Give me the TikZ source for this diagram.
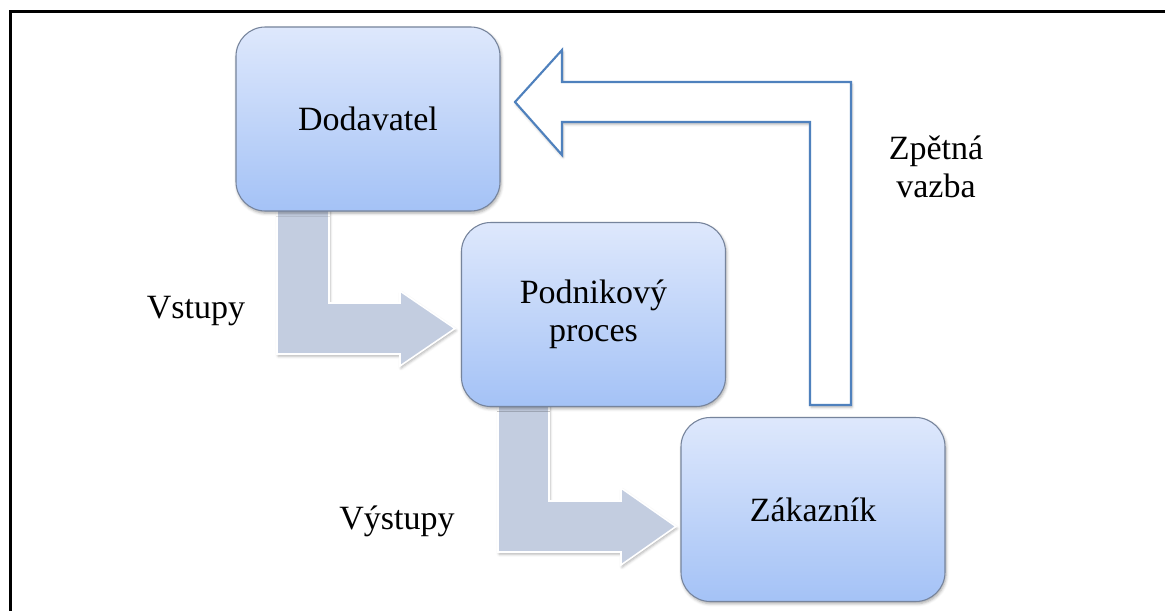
\documentclass[tikz,border=0pt]{standalone}
\usepackage{fontspec}
\setmainfont{Liberation Serif}
\usetikzlibrary{shadows.blur}
\definecolor{boxtop}{HTML}{DEE8FC}
\definecolor{boxbottom}{HTML}{A4C2F6}
\definecolor{boxline}{HTML}{76849C}
\definecolor{flowfill}{HTML}{C3CDE0}
\definecolor{loopline}{HTML}{4F81BD}
\tikzset{
  txt/.style={font=\fontsize{25.5}{28.5}\selectfont, align=center, text=black},
  stage/.style={txt, rounded corners=22pt, minimum width=198pt, minimum height=138pt,
    top color=boxtop, bottom color=boxbottom, draw=boxline, line width=0.8pt,
    blur shadow={shadow xshift=0.8pt, shadow yshift=-1.6pt, shadow blur radius=2.2pt, shadow opacity=35}},
  flow/.style={fill=flowfill, draw=white, line width=1.2pt, line join=miter,
    blur shadow={shadow xshift=0.8pt, shadow yshift=-1.6pt, shadow blur radius=2pt, shadow opacity=30}},
  loop/.style={fill=white, draw=loopline, line width=1.6pt, line join=miter,
    blur shadow={shadow xshift=0.8pt, shadow yshift=-1.6pt, shadow blur radius=2pt, shadow opacity=30}},
  lbl/.style={txt, inner sep=0pt}
}
\begin{document}
\begin{tikzpicture}[x=0.75pt, y=-0.75pt]
  \useasboundingbox (0,0) rectangle (1165,611);
  % page frame (cut at right and bottom)
  \draw[black, line width=2pt] (10.5,611) -- (10.5,11.5) -- (1165,11.5);

  % inputs: supplier -> process
  \draw[flow] (277,205) -- (329,205) -- (329,303) -- (400,303) -- (400,291)
    -- (455,328.5) -- (400,366) -- (400,354) -- (277,354) -- cycle;
  % outputs: process -> customer
  \draw[flow] (498,400) -- (549,400) -- (549,501) -- (621,501) -- (621,488)
    -- (676,526.5) -- (621,565) -- (621,552) -- (498,552) -- cycle;
  % feedback: customer -> supplier
  \draw[loop] (851,82) -- (851,405) -- (810,405) -- (810,122) -- (562,122)
    -- (562,155) -- (515,102) -- (562,50) -- (562,82) -- cycle;

  % stages
  \node[stage] (dod)  at (368,119)   {Dodavatel};
  \node[stage] (proc) at (593.5,314.5) {Podnikový\\proces};
  \node[stage] (zak)  at (813,509.5) {Zákazník};

  % labels
  \node[lbl] (vst) at (196,311) {Vstupy};
  \node[lbl] (vys) at (397,521) {Výstupy};
  \node[lbl] (zpv) at (936,167) {Zpětná\\vazba};
\end{tikzpicture}
\end{document}
